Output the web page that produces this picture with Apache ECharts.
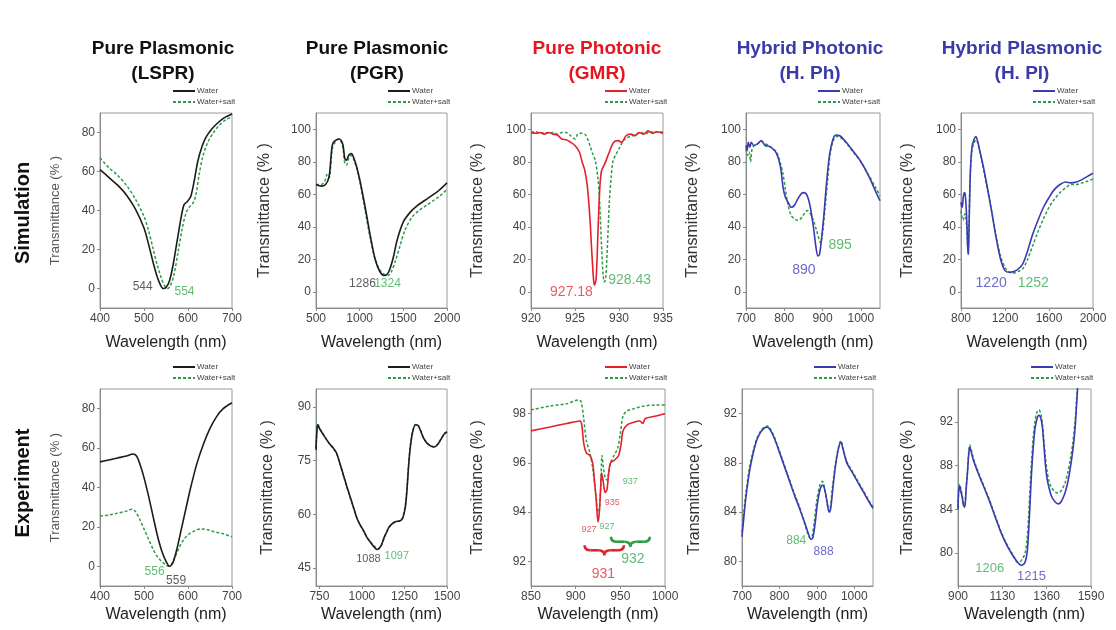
<!DOCTYPE html>
<html>
<head>
<meta charset="utf-8">
<title>Plasmonic / photonic transmittance</title>
<script src="https://cdn.jsdelivr.net/npm/echarts@6/dist/echarts.min.js"></script>
<style>
  html, body { margin: 0; padding: 0; background: #fff; }
  #main { width: 1116px; height: 630px; }
</style>
</head>
<body>
<div id="main"></div>
<script>
// ---- data: [wavelength nm, transmittance %] ----
// simulation row
var lsprSimWater = [[400,61],[420,57],[440,53],[460,48],[480,41],[500,31],[510,23],[520,14],[530,6],[538,1.5],[544,0],[550,0.5],[558,4],[566,12],[575,24],[584,36],[591,43],[598,44.5],[606,47],[614,55],[622,65],[632,73],[642,78],[655,82],[668,85],[682,87.5],[700,89.5]];
var lsprSimSalt = [[400,67],[420,62],[440,58],[460,53],[480,46],[500,37],[510,30],[520,21],[530,12],[540,5],[548,1],[554,0],[560,1.5],[568,7],[577,18],[587,31],[596,39],[604,42],[612,44],[618,48],[625,58],[634,68],[645,75],[658,80],[672,84],[686,86.5],[700,88]];

var pgrSimWater = [[500,66],[560,65],[610,66],[650,71],[675,85],[690,91],[720,93],[760,94],[790,93],[810,90],[830,82],[850,81],[875,84],[905,85],[935,82],[965,77],[1005,68],[1063,52],[1120,35],[1177,20],[1235,12],[1286,10],[1330,12],[1380,20],[1430,32],[1500,43],[1580,49],[1660,53],[1740,56],[1820,59],[1900,62],[2000,67]];
var pgrSimSalt = [[500,66],[560,66],[600,68],[625,72],[650,70],[675,82],[690,89],[720,92],[760,94],[790,92],[810,88],[830,79],[850,78],[875,82],[905,84],[935,81],[965,76],[1005,67],[1063,50],[1120,33],[1177,20],[1235,13],[1290,10.5],[1324,10],[1360,12],[1410,19],[1460,28],[1520,38],[1600,46],[1680,50],[1760,53],[1840,56],[1920,59],[2000,63]];

var gmrSimWater = [[920,98],[920.5,97.5],[921,98],[921.5,97],[922,98],[922.5,97],[923,96.5],[923.5,94],[924,93.5],[924.5,92],[925,90],[925.5,86],[925.8,80],[926.1,75],[926.4,65],[926.7,45],[926.9,25],[927.1,8],[927.2,4],[927.4,8],[927.6,35],[927.8,62],[928,74],[928.4,79],[928.9,86],[929.4,92],[929.9,93],[930.3,92],[930.8,96],[931.3,97],[931.8,96],[932.3,98],[932.8,97],[933.3,99],[933.8,97.5],[934.3,98.5],[935,97.5]];
var gmrSimSalt = [[920,98],[920.5,98.5],[921,97.5],[921.5,98],[922,97.5],[922.5,98],[923,97],[923.5,98],[924,98],[924.5,96],[925,94],[925.3,97],[925.7,97.5],[926.2,96.5],[926.7,90],[927,85],[927.3,81],[927.6,70],[927.8,55],[928,30],[928.2,10],[928.35,6],[928.5,9],[928.7,30],[928.9,55],[929.1,70],[929.3,80],[929.6,84],[930,88],[930.5,93],[931,95],[931.5,96],[932,97],[932.5,98],[933,97],[933.5,98.5],[934,98],[934.5,98.5],[935,98]];

var hphSimWater = [[700,90],[703,87],[706,92],[710,89],[714,92],[720,90],[730,91],[740,93],[750,90],[760,89.5],[770,88],[780,85],[790,77],[797,64],[803,58],[810,55],[818,52],[826,53],[835,57],[845,60.5],[852,61],[860,59],[868,52],[876,40],[883,27],[888,22],[892,23],[897,32],[903,46],[910,66],[918,84],[926,93],[934,96.5],[945,96],[960,92.5],[980,86.5],[1000,80],[1020,71.5],[1040,61],[1050,56]];
var hphSimSalt = [[700,88],[704,84],[708,86],[712,80],[716,88],[722,90],[730,91],[740,92.5],[750,91],[760,90],[770,88],[780,86],[790,79],[797,72],[803,63],[810,53],[818,47],[826,45],[835,44],[843,45],[852,48],[860,50],[868,48],[876,44],[884,38],[890,33],[895,30],[900,36],[906,50],[913,68],[920,85],[928,93],[936,95.5],[946,95],[960,92],[980,86],[1000,80],[1020,72],[1040,63.5],[1050,59]];

var hplSimWater = [[800,55],[805,53],[812,52],[820,58],[830,61],[838,60],[845,54],[852,45],[858,32],[864,23],[868,25],[874,42],[880,62],[888,78],[900,89],[915,93],[935,95.5],[950,93],[970,87],[1000,78],[1040,64],[1080,49],[1120,33],[1160,20],[1200,13],[1240,12],[1280,12.5],[1320,14],[1360,17],[1400,24],[1450,35],[1500,44],[1550,52],[1600,58],[1650,63],[1700,66],[1750,67.5],[1800,67],[1850,67.5],[1900,69],[1950,71],[2000,73]];
var hplSimSalt = [[800,50],[805,47],[812,45],[820,44],[830,47],[838,48],[845,45],[852,40],[858,32],[864,26],[868,28],[874,44],[880,62],[888,77],[900,87],[915,91],[935,93.5],[950,92],[970,86.5],[1000,77],[1040,63],[1080,49],[1120,34],[1160,22],[1200,15],[1240,12],[1280,11.5],[1320,12.5],[1360,14],[1400,19],[1450,28],[1500,37],[1550,45],[1600,52],[1650,57],[1700,61],[1750,64],[1800,66],[1850,66],[1900,67],[1950,68],[2000,69.5]];

// experiment row
var lsprExpWater = [[400,53],[420,54],[440,55],[460,56],[475,57],[483,56],[492,51],[500,45],[510,36],[520,26],[530,16],[540,8],[550,2.5],[558,0],[566,2],[575,9],[585,19],[595,29],[605,39],[620,52],[635,62],[650,70],[665,76],[680,80],[700,83]];
var lsprExpSalt = [[400,25.5],[420,26],[440,27],[460,28],[472,29],[480,28],[490,24],[500,19],[510,14],[520,9],[530,5],[540,2.5],[548,1],[555,0],[562,1],[570,4.5],[580,9.5],[590,13.5],[600,16],[615,18],[630,19],[645,18.5],[660,17.5],[680,16.5],[700,15]];

var pgrExpWater = [[730,78],[735,83],[740,85],[750,84],[763,83],[790,81],[812,79.6],[832,78.5],[852,77],[872,74],[891,71],[910,68],[930,65],[950,62],[970,59],[990,57],[1009,55.5],[1030,53.5],[1050,52.2],[1070,51],[1088,50.2],[1100,50.5],[1115,51.5],[1130,53.5],[1145,55],[1160,56.5],[1180,57.5],[1200,58],[1225,58.2],[1240,59],[1255,62],[1265,67],[1275,74],[1285,79],[1298,83],[1315,85],[1330,84.8],[1345,83.3],[1360,81.5],[1380,80],[1400,79.2],[1425,78.8],[1445,79.5],[1465,81],[1485,82.5],[1500,83]];
var pgrExpSalt = [[730,78.5],[735,83.5],[740,85.3],[750,84.2],[763,83.1],[790,81.1],[812,79.5],[832,78.4],[852,76.8],[872,73.8],[891,70.8],[910,67.8],[930,64.8],[950,61.9],[970,59],[990,57],[1009,55.4],[1030,53.6],[1050,52.3],[1070,51.2],[1088,50.5],[1097,50.3],[1110,51],[1125,52.6],[1140,54.5],[1160,56.4],[1180,57.4],[1200,57.9],[1225,58.3],[1240,59.2],[1255,62.5],[1265,67.5],[1275,74.5],[1285,79.3],[1298,83.2],[1315,85.1],[1330,84.9],[1345,83.4],[1360,81.6],[1380,80.1],[1400,79.3],[1425,78.9],[1445,79.6],[1465,81.1],[1485,82.6],[1500,83.1]];

var gmrExpWater = [[850,97.3],[870,97.45],[890,97.6],[905,97.7],[907,97.5],[909,96.8],[912,96.4],[916,96.3],[919,96.0],[921,95.3],[923,94.5],[925,93.6],[926.5,94.0],[928,95.0],[929,95.6],[931,95.2],[933,94.8],[935,94.9],[937,95.6],[939,96.0],[943,96.1],[948,96.3],[951,96.8],[953,97.3],[958,97.55],[965,97.65],[972,97.7],[975,97.6],[978,97.8],[990,97.9],[1000,98.0]];
var gmrExpSalt = [[850,98.15],[870,98.3],[890,98.4],[903,98.55],[906,98.5],[909,97.8],[912,96.9],[916,96.4],[919,95.8],[921,95.2],[923,94.6],[925,94.0],[926.5,94.1],[928,95.0],[929.5,96.3],[931,95.8],[933,95.4],[935,95.3],[937,95.6],[939,96.0],[943,96.3],[947,96.6],[950,97.2],[953,97.9],[957,98.1],[965,98.2],[975,98.3],[990,98.35],[1000,98.35]];

var hphExpWater = [[700,82],[705,83.6],[710,85.1],[720,87.3],[730,88.8],[740,89.9],[750,90.5],[760,90.85],[768,90.9],[775,90.7],[785,90.1],[795,89.3],[810,88.0],[825,86.7],[840,85.4],[855,84.2],[868,83.1],[878,82.2],[884,81.8],[889,81.9],[895,83.0],[902,84.8],[910,86.0],[916,86.2],[922,85.7],[928,84.7],[933,84.0],[937,84.3],[943,86.0],[950,87.8],[958,89.2],[964,89.7],[970,89.1],[980,88.0],[995,87.2],[1010,86.4],[1025,85.6],[1040,84.8],[1050,84.3]];
var hphExpSalt = [[700,82.4],[705,84],[710,85.5],[720,87.6],[730,89],[740,90],[750,90.6],[760,90.9],[768,91.0],[775,90.8],[785,90.2],[795,89.4],[810,88.1],[825,86.8],[840,85.5],[855,84.3],[868,83.0],[876,82.2],[882,81.9],[887,82.0],[893,83.2],[900,85.0],[908,86.2],[915,86.5],[921,85.9],[927,84.8],[932,84.1],[936,84.4],[942,86.1],[950,88.0],[958,89.3],[964,89.8],[970,89.2],[980,88.1],[995,87.3],[1010,86.5],[1025,85.7],[1040,84.9],[1050,84.4]];

var hplExpWater = [[900,84.0],[904,85.8],[909,86.1],[915,85.6],[921,85.2],[928,84.4],[935,84.2],[942,85.8],[949,87.3],[955,88.9],[961,89.7],[968,89.3],[978,88.6],[990,88.0],[1005,87.3],[1021,86.6],[1040,85.8],[1056,85.1],[1075,84.2],[1091,83.4],[1110,82.5],[1125,81.8],[1143,81.1],[1160,80.5],[1180,79.9],[1203,79.3],[1218,79.0],[1229,78.9],[1242,79.0],[1252,79.4],[1260,80.3],[1268,82.5],[1275,85.0],[1282,87.5],[1290,89.6],[1299,91.3],[1310,92.3],[1320,92.6],[1330,92.3],[1338,91.5],[1346,89.8],[1354,88.0],[1362,86.8],[1372,86.0],[1385,85.2],[1403,84.7],[1420,84.5],[1435,84.7],[1455,85.5],[1470,86.5],[1481,87.6],[1495,89.3],[1507,91.3],[1515,93.5],[1522,95.5],[1527,97]];
var hplExpSalt = [[900,84.2],[904,86.0],[909,86.3],[915,85.8],[921,85.4],[928,84.6],[935,84.4],[942,86.0],[949,87.5],[955,89.1],[961,89.9],[968,89.5],[978,88.8],[990,88.1],[1005,87.4],[1021,86.7],[1040,85.9],[1056,85.2],[1075,84.3],[1091,83.5],[1110,82.6],[1125,81.9],[1143,81.2],[1160,80.6],[1180,80.0],[1195,79.5],[1206,79.2],[1220,79.2],[1235,79.5],[1248,80.0],[1258,81.2],[1266,83.3],[1274,86.0],[1282,88.5],[1290,90.5],[1299,92.0],[1310,92.9],[1320,93.1],[1330,92.7],[1338,91.8],[1346,90.2],[1354,88.7],[1362,87.5],[1372,86.6],[1385,86.0],[1403,85.6],[1420,85.5],[1435,85.7],[1455,86.4],[1470,87.4],[1481,88.4],[1495,90.0],[1507,92.0],[1515,94.0],[1522,96.0],[1527,97.5]];

// peak labels [x, y, text, colour key]
var lsprSimNotes = [[497,1,'544','k'],[592,-1.5,'554','g']];
var pgrSimNotes = [[1032,5,'1286','k'],[1319,5,'1324','g']];
var gmrSimNotes = [[924.6,-0.5,'927.18','r'],[931.2,7.2,'928.43','g']];
var hphSimNotes = [[851,13.4,'890','b'],[946,28.4,'895','g']];
var hplSimNotes = [[1074,5,'1220','b'],[1457,5.6,'1252','g']];
var lsprExpNotes = [[524,-2.5,'556','g'],[573,-7.3,'559','k']];
var pgrExpNotes = [[1038,47.5,'1088','k'],[1205,48.4,'1097','g']];
var gmrExpNotes = [[915,93.28,'927','r'],[935,93.4,'927','g'],[941,94.4,'935','r'],[961,95.25,'937','g']];
var gmrExpBigNotes = [[931,91.5,'931','r'],[964,92.1,'932','g']];
var gmrExpBraces = [[910,954,92.45,'r'],[939.5,983,92.8,'g']];
var hphExpNotes = [[845,81.7,'884','g'],[918,80.8,'888','b']];
var hplExpNotes = [[1065,78.6,'1206','g'],[1281,77.85,'1215','b']];

// axis ticks
var ticksLspr = [400,500,600,700];
var ticksPgrSim = [500,1000,1500,2000];
var ticksGmrSim = [920,925,930,935];
var ticksHph = [700,800,900,1000];
var ticksHplSim = [800,1200,1600,2000];
var ticksPgrExp = [750,1000,1250,1500];
var ticksGmrExp = [850,900,950,1000];
var ticksHplExp = [900,1130,1360,1590];
var yTicks80 = [0,20,40,60,80];
var yTicks100 = [0,20,40,60,80,100];

var titles = [
  ['Pure Plasmonic\n(LSPR)', '#111', 163],
  ['Pure Plasmonic\n(PGR)', '#111', 377],
  ['Pure Photonic\n(GMR)', '#e8141e', 597],
  ['Hybrid Photonic\n(H. Ph)', '#3b3aa6', 810],
  ['Hybrid Plasmonic\n(H. Pl)', '#3b3aa6', 1022]
];

var COL = { k: '#1c1c1c', g: '#2f9c45', r: '#e3202c', b: '#3b3ab0' };
var NOTE = { k: '#333333', g: '#3aaa52', r: '#e3303a', b: '#4a44c0' };
var FONT = '"Liberation Sans", Arial, sans-serif';

var TOP1 = 113, H1 = 195, TOP2 = 389, H2 = 197;
var panels = [
  { left: 100, top: TOP1, width: 132, height: H1, xr: [400, 700], xt: ticksLspr, yr: [-10, 90], yt: yTicks80, w: lsprSimWater, s: lsprSimSalt, c: 'k', notes: lsprSimNotes, ng: 38, ns: 13, lg: 172, fs: 12 },
  { left: 316, top: TOP1, width: 131, height: H1, xr: [500, 2000], xt: ticksPgrSim, yr: [-10, 110], yt: yTicks100, w: pgrSimWater, s: pgrSimSalt, c: 'k', notes: pgrSimNotes, ng: 43, ns: 16, lg: 387, fs: 12 },
  { left: 531, top: TOP1, width: 132, height: H1, xr: [920, 935], xt: ticksGmrSim, yr: [-10, 110], yt: yTicks100, w: gmrSimWater, s: gmrSimSalt, c: 'r', notes: gmrSimNotes, ng: 45, ns: 16, lg: 604, fs: 14 },
  { left: 746, top: TOP1, width: 134, height: H1, xr: [700, 1050], xt: ticksHph, yr: [-10, 110], yt: yTicks100, w: hphSimWater, s: hphSimSalt, c: 'b', notes: hphSimNotes, ng: 45, ns: 16, lg: 817, fs: 14 },
  { left: 961, top: TOP1, width: 132, height: H1, xr: [800, 2000], xt: ticksHplSim, yr: [-10, 110], yt: yTicks100, w: hplSimWater, s: hplSimSalt, c: 'b', notes: hplSimNotes, ng: 45, ns: 16, lg: 1032, fs: 14 },
  { left: 100, top: TOP2, width: 132, height: H2, xr: [400, 700], xt: ticksLspr, yr: [-10, 90], yt: yTicks80, w: lsprExpWater, s: lsprExpSalt, c: 'k', notes: lsprExpNotes, ng: 38, ns: 13, lg: 172, fs: 12 },
  { left: 316, top: TOP2, width: 131, height: H2, xr: [730, 1500], xt: ticksPgrExp, yr: [40, 95], yt: [45, 60, 75, 90], w: pgrExpWater, s: pgrExpSalt, c: 'k', notes: pgrExpNotes, ng: 40, ns: 16, lg: 387, fs: 11 },
  { left: 531, top: TOP2, width: 134, height: H2, xr: [850, 1000], xt: ticksGmrExp, yr: [91, 99], yt: [92, 94, 96, 98], w: gmrExpWater, s: gmrExpSalt, c: 'r', notes: gmrExpNotes, ng: 45, ns: 16, lg: 604, fs: 9 },
  { left: 742, top: TOP2, width: 131, height: H2, xr: [700, 1050], xt: ticksHph, yr: [78, 94], yt: [80, 84, 88, 92], w: hphExpWater, s: hphExpSalt, c: 'b', notes: hphExpNotes, ng: 39, ns: 16, lg: 813, fs: 12 },
  { left: 958, top: TOP2, width: 133, height: H2, xr: [900, 1590], xt: ticksHplExp, yr: [77, 95], yt: [80, 84, 88, 92], w: hplExpWater, s: hplExpSalt, c: 'b', notes: hplExpNotes, ng: 42, ns: 16, lg: 1030, fs: 13 }
];

function plain(v) { return String(v); }

var grids = [], xAxes = [], yAxes = [], series = [], legends = [];
panels.forEach(function (p, i) {
  var row2 = p.top === TOP2;
  grids.push({ left: p.left, top: p.top, width: p.width, height: p.height, show: true, borderColor: '#9a9a9a', borderWidth: 1 });
  xAxes.push({
    gridIndex: i, type: 'value', min: p.xr[0], max: p.xr[1],
    name: 'Wavelength (nm)', nameLocation: 'middle', nameGap: row2 ? 21 : 27,
    nameTextStyle: { fontSize: 16, color: '#222', fontFamily: FONT },
    axisLine: { onZero: false, lineStyle: { color: '#8a8a8a' } },
    axisTick: { length: 3, lineStyle: { color: '#8a8a8a' }, customValues: p.xt },
    axisLabel: { fontSize: 12, color: '#444', margin: 5, fontFamily: FONT, customValues: p.xt, formatter: plain },
    splitLine: { show: false }
  });
  yAxes.push({
    gridIndex: i, type: 'value', min: p.yr[0], max: p.yr[1],
    name: 'Transmittance (% )', nameLocation: 'middle', nameGap: p.ng,
    nameTextStyle: { fontSize: p.ns, color: p.ns < 14 ? '#555' : '#333', fontFamily: FONT },
    axisLine: { onZero: false, lineStyle: { color: '#8a8a8a' } },
    axisTick: { length: 3, lineStyle: { color: '#8a8a8a' }, customValues: p.yt },
    axisLabel: { fontSize: 12, color: '#444', margin: 5, fontFamily: FONT, customValues: p.yt, formatter: plain },
    splitLine: { show: false }
  });
  var wName = 'Water#' + i, sName = 'Water+salt#' + i;
  series.push({
    name: wName, type: 'line', xAxisIndex: i, yAxisIndex: i, data: p.w,
    symbol: 'none', smooth: 0.3, lineStyle: { color: COL[p.c], width: 1.6 }, itemStyle: { color: COL[p.c] }, z: 3
  });
  series.push({
    name: sName, type: 'line', xAxisIndex: i, yAxisIndex: i, data: p.s,
    symbol: 'none', smooth: 0.3, lineStyle: { color: COL.g, width: 1.5, type: [3, 2] }, itemStyle: { color: COL.g }, z: 2
  });
  series.push({
    type: 'scatter', xAxisIndex: i, yAxisIndex: i, symbolSize: 0, silent: true, z: 5,
    data: p.notes.map(function (n) {
      return { value: [n[0], n[1]], label: { formatter: n[2], color: NOTE[n[3]] } };
    }),
    label: { show: true, position: 'inside', fontSize: p.fs, fontFamily: FONT }
  });
  legends.push({
    data: [wName, sName], orient: 'vertical', left: p.lg, top: row2 ? 363 : 87,
    itemWidth: 22, itemHeight: 8, itemGap: 3, padding: 0, selectedMode: false,
    itemStyle: { opacity: 0, borderWidth: 0 },
    formatter: function (n) { return n.split('#')[0]; },
    textStyle: { fontSize: 8, color: '#444', fontFamily: FONT, padding: [0, 0, 0, -3] }
  });
});

// larger labels and braces in the experimental GMR panel
series.push({
  type: 'scatter', xAxisIndex: 7, yAxisIndex: 7, symbolSize: 0, silent: true, z: 5,
  data: gmrExpBigNotes.map(function (n) {
    return { value: [n[0], n[1]], label: { formatter: n[2], color: NOTE[n[3]] } };
  }),
  label: { show: true, position: 'inside', fontSize: 14, fontFamily: FONT }
});
series.push({
  type: 'custom', xAxisIndex: 7, yAxisIndex: 7, silent: true, z: 5,
  data: gmrExpBraces.map(function (b) { return [b[0], b[1], b[2]]; }),
  renderItem: function (params, api) {
    var a = api.coord([api.value(0), api.value(2)]);
    var b = api.coord([api.value(1), api.value(2)]);
    var y = a[1], x1 = a[0], x2 = b[0], xm = (x1 + x2) / 2, h = 5, r = 6;
    var col = COL[gmrExpBraces[params.dataIndex][3]];
    var st = { stroke: col, lineWidth: 2.6, fill: 'none' };
    return {
      type: 'group',
      children: [
        { type: 'bezierCurve', shape: { x1: x1, y1: y - h, cpx1: x1, cpy1: y, x2: x1 + r, y2: y }, style: st },
        { type: 'line', shape: { x1: x1 + r, y1: y, x2: xm - r, y2: y }, style: st },
        { type: 'bezierCurve', shape: { x1: xm - r, y1: y, cpx1: xm, cpy1: y, x2: xm, y2: y + h }, style: st },
        { type: 'bezierCurve', shape: { x1: xm, y1: y + h, cpx1: xm, cpy1: y, x2: xm + r, y2: y }, style: st },
        { type: 'line', shape: { x1: xm + r, y1: y, x2: x2 - r, y2: y }, style: st },
        { type: 'bezierCurve', shape: { x1: x2 - r, y1: y, cpx1: x2, cpy1: y, x2: x2, y2: y - h }, style: st }
      ]
    };
  }
});

var graphics = titles.map(function (t) {
  return {
    type: 'text', x: t[2], y: 36,
    style: { text: t[0], fill: t[1], font: 'bold 19px ' + FONT, textAlign: 'center', lineHeight: 25 }
  };
});
graphics.push({ type: 'text', x: 23, y: 213, rotation: Math.PI / 2,
  style: { text: 'Simulation', fill: '#111', font: 'bold 20px ' + FONT, textAlign: 'center', textVerticalAlign: 'middle' } });
graphics.push({ type: 'text', x: 23, y: 483, rotation: Math.PI / 2,
  style: { text: 'Experiment', fill: '#111', font: 'bold 20px ' + FONT, textAlign: 'center', textVerticalAlign: 'middle' } });

var myChart = echarts.init(document.getElementById('main'), null, { renderer: 'canvas' });
myChart.setOption({
  animation: false,
  backgroundColor: '#fff',
  textStyle: { fontFamily: FONT },
  grid: grids,
  xAxis: xAxes,
  yAxis: yAxes,
  legend: legends,
  graphic: graphics,
  series: series
});
</script>
</body>
</html>
